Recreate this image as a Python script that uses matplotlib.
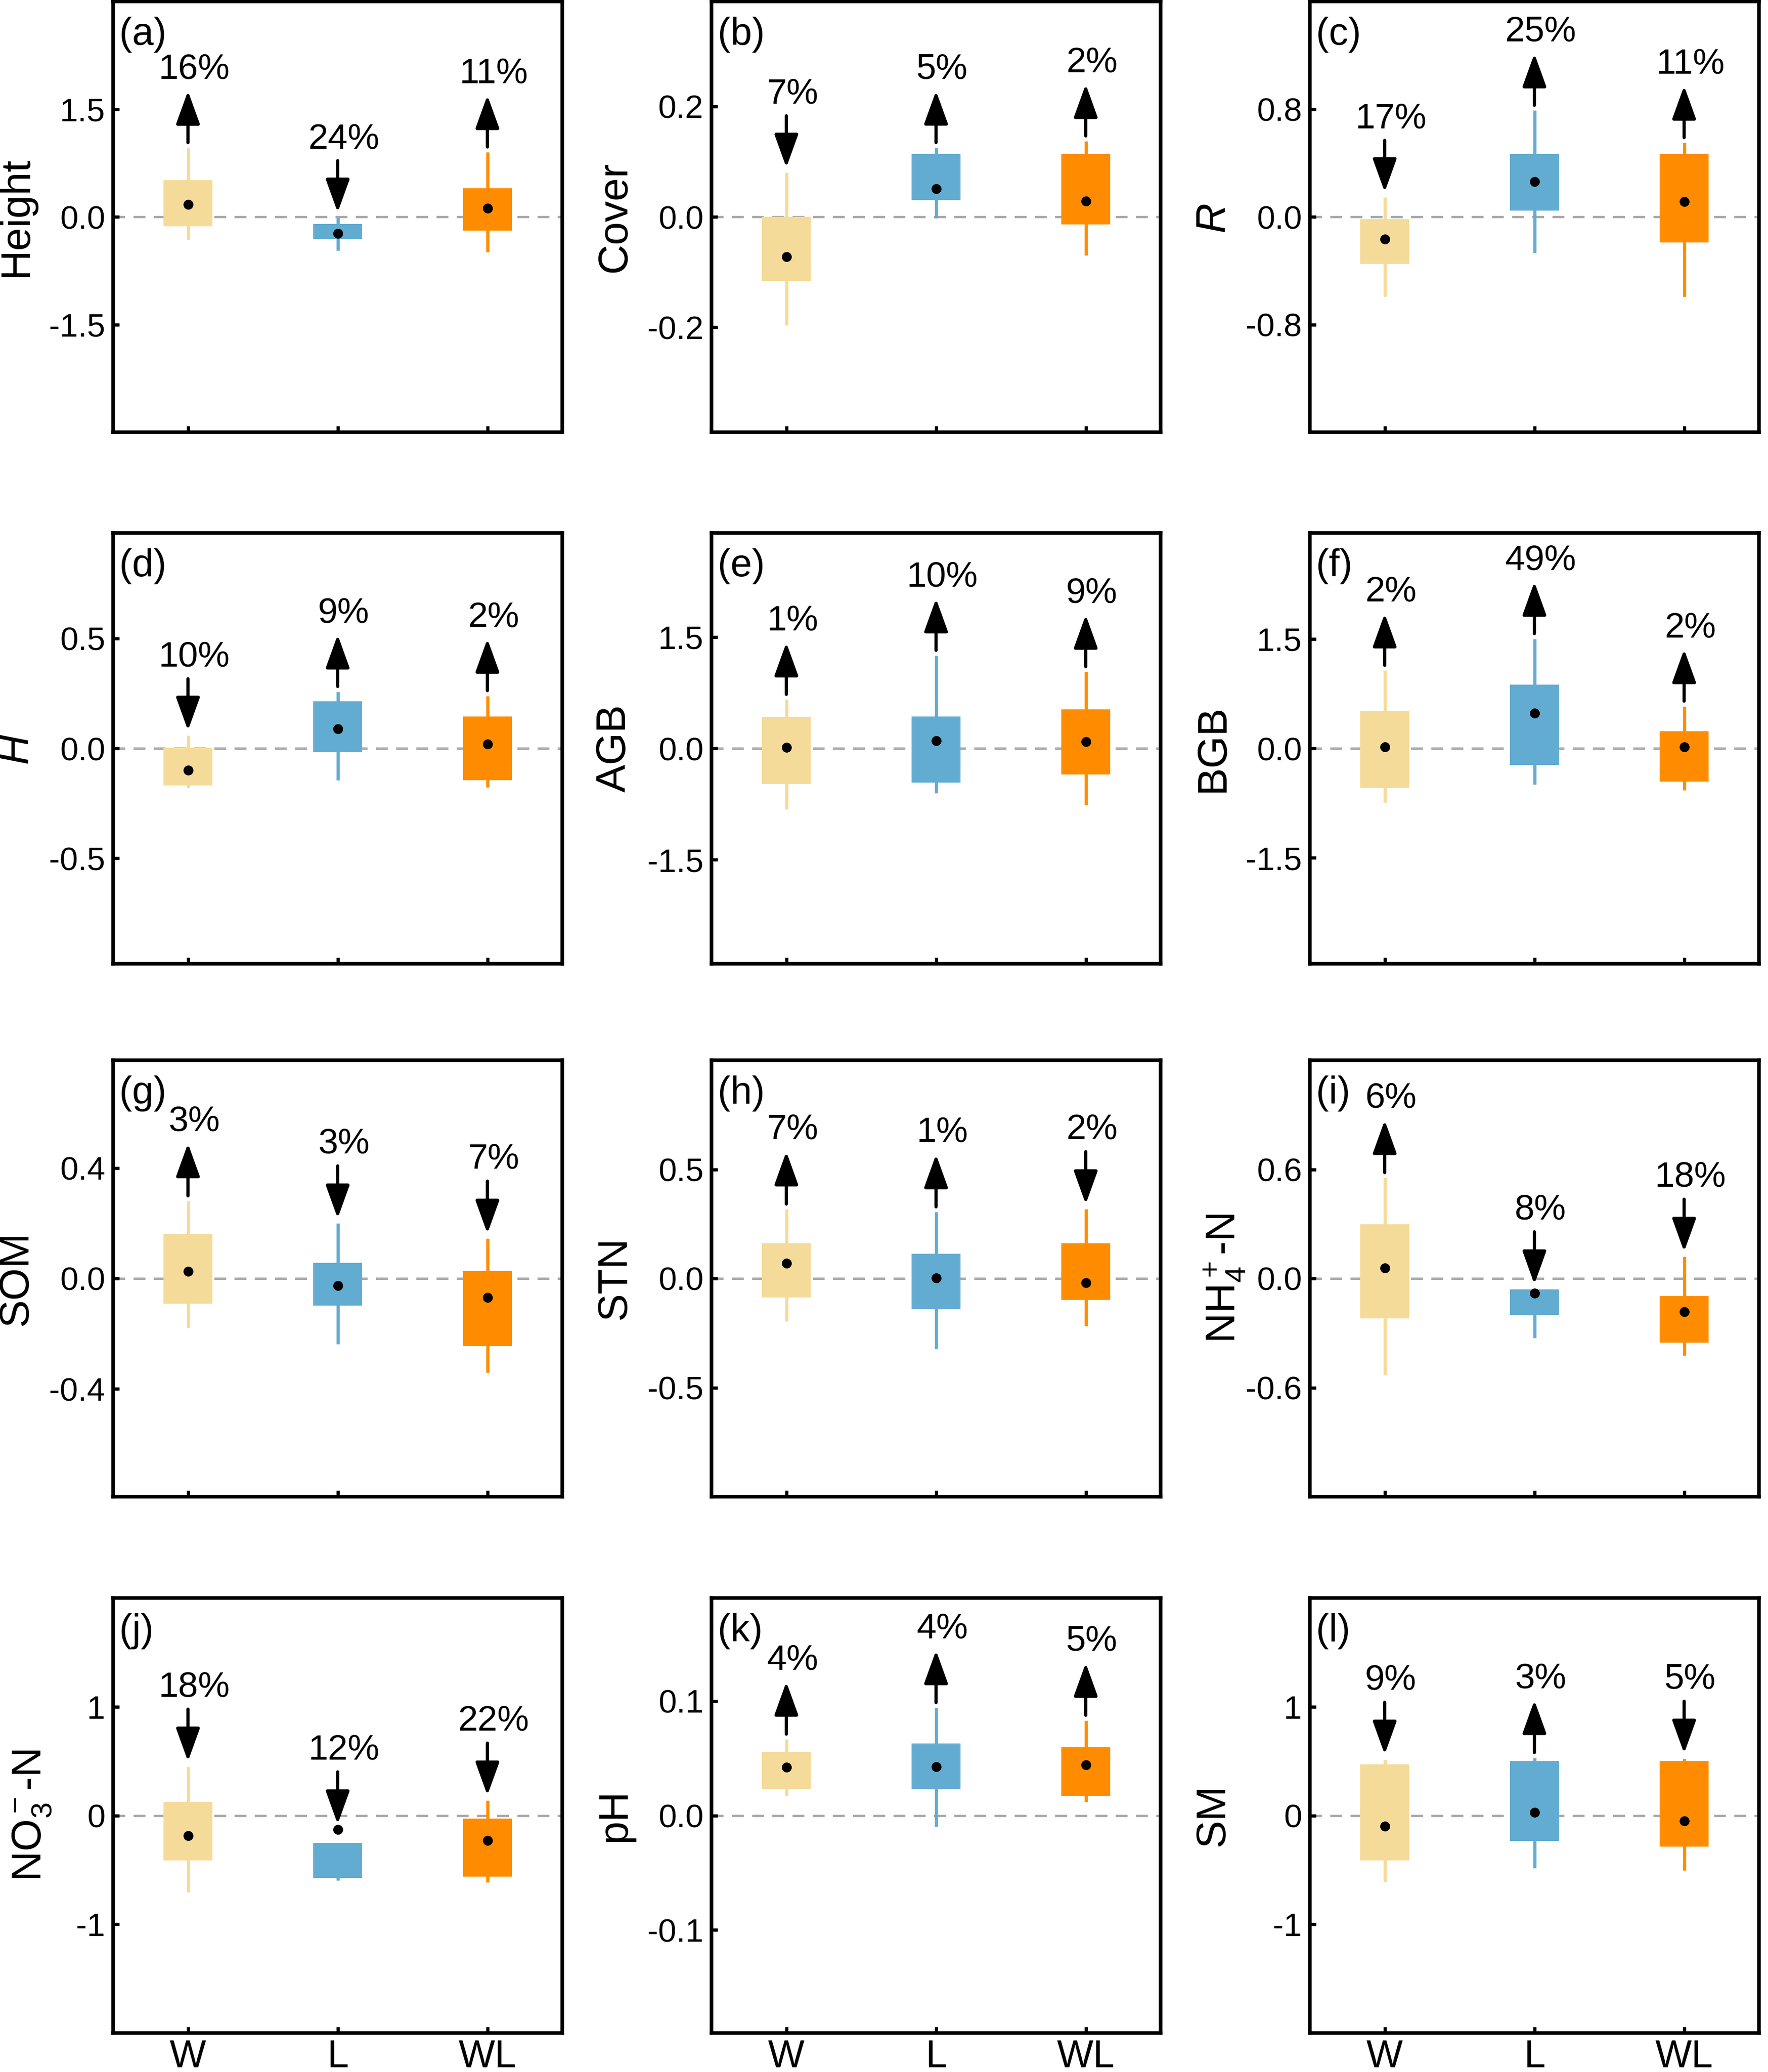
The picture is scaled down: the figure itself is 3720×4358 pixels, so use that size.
import matplotlib
matplotlib.use("Agg")
import matplotlib.pyplot as plt

plt.rcParams["font.family"] = ["Liberation Sans", "DejaVu Sans"]
plt.rcParams["mathtext.fontset"] = "custom"
plt.rcParams["mathtext.rm"] = "Liberation Sans"
plt.rcParams["mathtext.it"] = "Liberation Sans:italic"
plt.rcParams["axes.unicode_minus"] = False

groups = ["W", "L", "WL"]
colors = ["#F5DB9A", "#62ACD2", "#FF8C00"]

letters = ["a", "b", "c", "d", "e", "f", "g", "h", "i", "j", "k", "l"]
ylabels = ["Height", "Cover", "R", "H", "AGB", "BGB", "SOM", "STN",
           r"$\mathregular{NH_4^+}$-N", r"$\mathregular{NO_3^-}$-N", "pH", "SM"]
italic = [False, False, True, True, False, False, False, False, False, False, False, False]
label_x = [-0.215] * 8 + [-0.19, -0.18, -0.215, -0.215]

# symmetric y range and tick step of each panel
ylims = [3.0, 0.39, 1.6, 0.98, 2.9, 2.95, 0.79, 1.0, 1.2, 2.0, 0.19, 2.0]
tick_steps = [1.5, 0.2, 0.8, 0.5, 1.5, 1.5, 0.4, 0.5, 0.6, 1, 0.1, 1]
tick_dec = [1, 1, 1, 1, 1, 1, 1, 1, 1, 0, 1, 0]

# box bottom / top (W, L, WL)
q1 = [[-0.13, -0.31, -0.195], [-0.116, 0.030, -0.014], [-0.351, 0.047, -0.19],
      [-0.168, -0.017, -0.146], [-0.477, -0.458, -0.352], [-0.54, -0.23, -0.458],
      [-0.091, -0.098, -0.245], [-0.088, -0.139, -0.099], [-0.219, -0.20, -0.354],
      [-0.412, -0.574, -0.56], [0.0229, 0.0229, 0.0172], [-0.414, -0.234, -0.286]]
q3 = [[0.51, -0.10, 0.40], [0.0, 0.114, 0.114], [-0.017, 0.466, 0.466],
      [0.003, 0.215, 0.145], [0.42, 0.43, 0.528], [0.515, 0.87, 0.235],
      [0.161, 0.056, 0.027], [0.161, 0.114, 0.161], [0.298, -0.06, -0.096],
      [0.124, -0.25, -0.03], [0.0553, 0.063, 0.0594], [0.471, 0.50, 0.50]]
# whisker ends
lo = [[-0.32, -0.47, -0.49], [-0.196, -0.003, -0.070], [-0.593, -0.27, -0.593],
      [-0.18, -0.144, -0.177], [-0.82, -0.60, -0.763], [-0.74, -0.495, -0.576],
      [-0.179, -0.238, -0.34], [-0.196, -0.322, -0.218], [-0.532, -0.327, -0.424],
      [-0.707, -0.598, -0.613], [0.0172, -0.0098, 0.0117], [-0.611, -0.483, -0.506]]
hi = [[0.96, -0.01, 0.90], [0.080, 0.125, 0.137], [0.146, 0.79, 0.55],
      [0.058, 0.258, 0.239], [0.657, 1.25, 1.03], [1.066, 1.5, 0.576],
      [0.28, 0.199, 0.144], [0.317, 0.304, 0.317], [0.553, -0.06, 0.119],
      [0.45, -0.25, 0.138], [0.0665, 0.094, 0.083], [0.514, 0.531, 0.523]]
means = [[0.175, -0.23, 0.12], [-0.072, 0.051, 0.028], [-0.165, 0.262, 0.114],
         [-0.10, 0.089, 0.02], [0.01, 0.10, 0.09], [0.02, 0.48, 0.02],
         [0.026, -0.025, -0.068], [0.07, 0.003, -0.019], [0.058, -0.082, -0.184],
         [-0.186, -0.127, -0.23], [0.042, 0.0425, 0.0444], [-0.10, 0.029, -0.049]]
# arrow direction and percentage
direction = [["up", "down", "up"], ["down", "up", "up"], ["down", "up", "up"],
             ["down", "up", "up"], ["up", "up", "up"], ["up", "up", "up"],
             ["up", "down", "down"], ["up", "up", "down"], ["up", "down", "down"],
             ["down", "down", "down"], ["up", "up", "up"], ["down", "up", "down"]]
pct = [[16, 24, 11], [7, 5, 2], [17, 25, 11],
       [10, 9, 2], [1, 10, 9], [2, 49, 2],
       [3, 3, 7], [7, 1, 2], [6, 8, 18],
       [18, 12, 22], [4, 4, 5], [9, 3, 5]]

W, H = 3720, 4358
fig = plt.figure(figsize=(W / 300, H / 300), dpi=300)
col_left = [238, 1497, 2756]
row_top = [3, 1121, 2230, 3361]
row_h = [906, 906, 918, 915]
ax_w = 945

x = [1, 2, 3]
for i in range(12):
    r, c = divmod(i, 3)
    ax = fig.add_axes([col_left[c] / W, 1 - (row_top[r] + row_h[r]) / H, ax_w / W, row_h[r] / H])
    ym = ylims[i]
    span = 2 * ym

    ax.axhline(0, color="#ABABAB", lw=1.2, ls=(0, (5, 3.5)), zorder=1)
    ax.vlines(x, lo[i], hi[i], colors=colors, lw=1.6, zorder=2)
    heights = [b - a for a, b in zip(q1[i], q3[i])]
    ax.bar(x, heights, bottom=q1[i], width=0.33, color=colors, linewidth=0, zorder=3)
    ax.plot(x, means[i], "o", color="black", ms=4, zorder=4)

    for j in range(3):
        top = max(hi[i][j], means[i][j])
        if direction[i][j] == "up":
            base = top + 0.012 * span
            tip = base + 0.12 * span
            ytxt = tip + 0.05 * span
        else:
            tip = top + 0.012 * span
            base = tip + 0.12 * span
            ytxt = base + 0.05 * span
        ax.annotate("", xy=(x[j], tip), xytext=(x[j], base),
                    arrowprops=dict(arrowstyle="-|>,head_length=0.72,head_width=0.26",
                                    color="black", lw=1.6, shrinkA=0, shrinkB=0,
                                    mutation_scale=20))
        ax.text(x[j] + 0.04, ytxt, f"{pct[i][j]}%", ha="center", va="center", fontsize=18)

    ax.set_xlim(0.5, 3.5)
    ax.set_ylim(-ym, ym)
    st = tick_steps[i]
    yt = [-st, 0, st]
    ax.set_yticks(yt, labels=[f"{t:.{tick_dec[i]}f}" for t in yt])
    ax.set_xticks(x, labels=groups if r == 3 else ["", "", ""])
    ax.tick_params(direction="in", length=3.2, width=1.6, labelsize=16.5, pad=4)
    ax.tick_params(axis="x", labelsize=19.5, pad=3)
    for sp in ax.spines.values():
        sp.set_linewidth(1.8)

    ax.set_ylabel(ylabels[i], fontsize=21, fontstyle="italic" if italic[i] else "normal")
    ax.yaxis.set_label_coords(label_x[i], 0.5)
    ax.yaxis.label.set_verticalalignment("center")

    ax.text(0.014, 0.965, f"({letters[i]})", transform=ax.transAxes,
            fontsize=19.5, ha="left", va="top")

fig.savefig("out.png", dpi=300, facecolor="white")
